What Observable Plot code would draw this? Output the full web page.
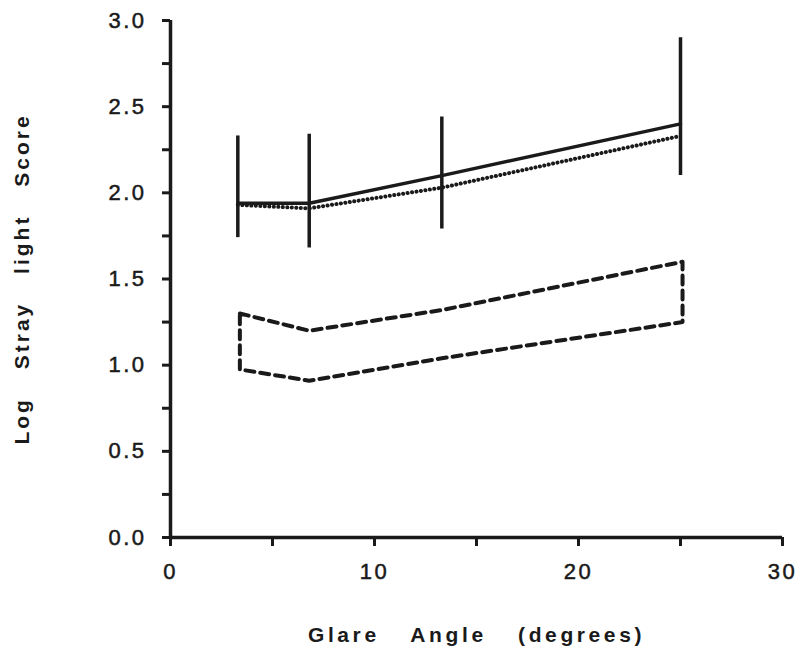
<!DOCTYPE html>
<html>
<head>
<meta charset="utf-8">
<script src="https://cdn.jsdelivr.net/npm/d3@7"></script>
<script src="https://cdn.jsdelivr.net/npm/@observablehq/plot@0.6"></script>
<style>
  html, body { margin: 0; padding: 0; background: #fff; }
  #chart svg { font-family: "Liberation Sans", Arial, sans-serif; color: #1a1a1a; }
  #chart svg [aria-label="y-axis tick label"] text,
  #chart svg [aria-label="x-axis tick label"] text { font-size: 22px; letter-spacing: 2.5px; stroke: currentColor; stroke-width: 0.5px; }
  #chart svg [aria-label="x-axis label"] text,
  #chart svg [aria-label="y-axis label"] text { font-size: 21px; font-weight: bold; letter-spacing: 3px; word-spacing: 19px; }
  #chart svg [aria-label="x-axis label"] text { letter-spacing: 3.6px; word-spacing: 22px; }
</style>
</head>
<body>
<div id="chart"></div>
<script>
// Glare angles (degrees) at which stray light was measured
const glareAngle = [3.3, 6.8, 13.3, 25.0];

// Mean log stray-light score (solid line) and its range (vertical bars)
const meanScore = [1.94, 1.94, 2.10, 2.40];
const rangeLow  = [1.74, 1.68, 1.79, 2.10];
const rangeHigh = [2.33, 2.34, 2.44, 2.90];

// Second series (dotted line)
const dottedScore = [1.93, 1.91, 2.03, 2.33];

// Normal band (dashed outline): lower and upper limits
const bandAngle = [3.4, 6.8, 13.3, 25.1];
const bandUpper = [1.30, 1.20, 1.32, 1.60];
const bandLower = [0.975, 0.91, 1.04, 1.25];

// Axis ticks
const xTicksMajor = [0, 10, 20, 30];
const xTicksMinor = [0, 5, 10, 15, 20, 25, 30];
const yTicksMajor = [0, 0.5, 1.0, 1.5, 2.0, 2.5, 3.0];
const yTicksMinor = d3.range(0, 3.01, 0.25);

const meanData = glareAngle.map((x, i) => ({x, y: meanScore[i], lo: rangeLow[i], hi: rangeHigh[i]}));
const dottedData = glareAngle.map((x, i) => ({x, y: dottedScore[i]}));
// closed outline: along the upper limit, then back along the lower limit
const bandOutline = [
  ...bandAngle.map((x, i) => ({x, y: bandUpper[i]})),
  ...bandAngle.map((x, i) => ({x, y: bandLower[i]})).reverse(),
  {x: bandAngle[0], y: bandUpper[0]}
];

const ink = "#1a1a1a";

const chart = Plot.plot({
  width: 801,
  height: 650,
  marginLeft: 170,
  marginRight: 19,
  marginTop: 20,
  marginBottom: 113,
  style: {color: ink, background: "#fff"},
  x: {domain: [0, 30]},
  y: {domain: [0, 3]},
  marks: [
    // minor + major tick marks
    Plot.axisX({ticks: xTicksMinor, tickSize: 9, strokeWidth: 3, stroke: ink, tickFormat: () => "", label: null}),
    Plot.axisY({ticks: yTicksMinor, tickSize: 8, strokeWidth: 3, stroke: ink, tickFormat: () => "", label: null}),
    // tick labels and titles
    Plot.axisX({ticks: xTicksMajor, tickSize: 0, tickPadding: 26, tickFormat: d3.format("d"),
      label: "Glare Angle (degrees)", labelAnchor: "center", labelArrow: "none", labelOffset: 104}),
    Plot.axisY({ticks: yTicksMajor, tickSize: 0, tickPadding: 24, tickFormat: d3.format(".1f"),
      label: "Log Stray light Score", labelAnchor: "center", labelArrow: "none", labelOffset: 156}),
    // axis lines
    Plot.ruleX([0], {stroke: ink, strokeWidth: 3.5}),
    Plot.ruleY([0], {stroke: ink, strokeWidth: 3.5}),
    // normal band outline
    Plot.line(bandOutline, {x: "x", y: "y", stroke: ink, strokeWidth: 4, strokeDasharray: "9 6"}),
    // range bars
    Plot.ruleX(meanData, {x: "x", y1: "lo", y2: "hi", stroke: ink, strokeWidth: 3.5}),
    // dotted series
    Plot.line(dottedData, {x: "x", y: "y", stroke: ink, strokeWidth: 4, strokeDasharray: "0.1 4.4", strokeLinecap: "round"}),
    // mean series
    Plot.line(meanData, {x: "x", y: "y", stroke: ink, strokeWidth: 3.5})
  ]
});

document.getElementById("chart").append(chart);
</script>
</body>
</html>
